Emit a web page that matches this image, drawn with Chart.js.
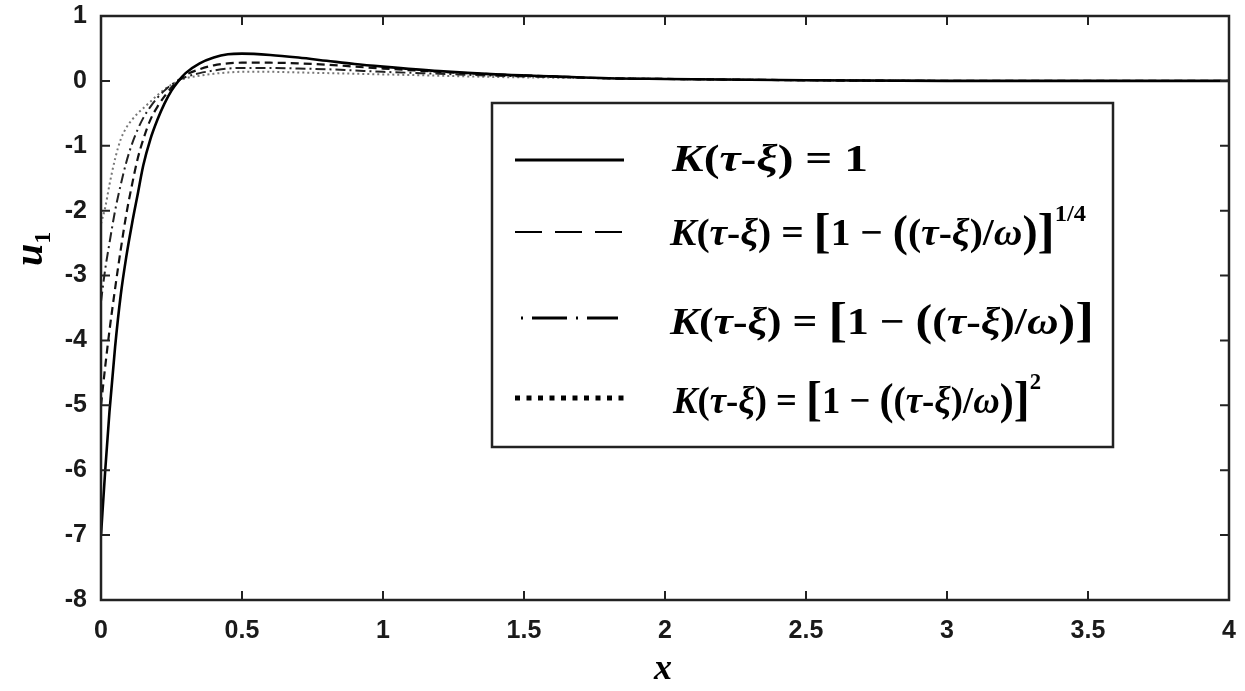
<!DOCTYPE html>
<html>
<head>
<meta charset="utf-8">
<script src="https://cdn.jsdelivr.net/npm/chart.js@4/dist/chart.umd.min.js"></script>
<style>
  html, body { margin: 0; padding: 0; background: #fff; }
  #wrap { position: relative; width: 1245px; height: 691px; }
</style>
</head>
<body>
<div id="wrap"><canvas id="c"></canvas></div>
<script>
// ---- data ----
const xValues = [0, 0.015, 0.03, 0.05, 0.07, 0.09, 0.11, 0.13, 0.15, 0.175, 0.2, 0.225, 0.25, 0.275, 0.3, 0.35, 0.4, 0.45, 0.5, 0.6, 0.7, 0.8, 0.9, 1.0, 1.2, 1.4, 1.6, 1.8, 2.0, 2.5, 3.0, 3.5, 4.0];
const uK1      = [-7.0, -6.0, -5.1, -4.1, -3.3, -2.7, -2.2, -1.75, -1.3, -0.9, -0.6, -0.35, -0.15, 0.0, 0.12, 0.27, 0.36, 0.41, 0.42, 0.40, 0.36, 0.31, 0.26, 0.22, 0.15, 0.10, 0.07, 0.04, 0.03, 0.01, 0.0, 0.0, 0.0];
const uKquart  = [-5.0, -4.4, -3.85, -3.2, -2.6, -2.05, -1.6, -1.2, -0.9, -0.6, -0.4, -0.24, -0.1, 0.01, 0.09, 0.18, 0.24, 0.27, 0.28, 0.28, 0.27, 0.25, 0.22, 0.19, 0.14, 0.10, 0.07, 0.04, 0.03, 0.01, 0.0, 0.0, 0.0];
const uKlin    = [-3.4, -2.9, -2.5, -2.0, -1.6, -1.25, -0.97, -0.75, -0.57, -0.4, -0.26, -0.15, -0.06, 0.01, 0.06, 0.12, 0.16, 0.19, 0.20, 0.20, 0.19, 0.18, 0.16, 0.14, 0.11, 0.08, 0.06, 0.04, 0.03, 0.01, 0.0, 0.0, 0.0];
const uKsq     = [-2.2, -1.95, -1.6, -1.2, -0.9, -0.72, -0.6, -0.5, -0.42, -0.32, -0.22, -0.13, -0.06, 0.0, 0.04, 0.08, 0.11, 0.13, 0.14, 0.14, 0.13, 0.12, 0.11, 0.10, 0.08, 0.06, 0.05, 0.04, 0.03, 0.01, 0.0, 0.0, 0.0];
const xTicks = [0, 0.5, 1, 1.5, 2, 2.5, 3, 3.5, 4];
const yTicks = [1, 0, -1, -2, -3, -4, -5, -6, -7, -8];
const seriesNames = ['K(τ-ξ) = 1', 'K(τ-ξ) = [1 − ((τ-ξ)/ω)]^1/4', 'K(τ-ξ) = [1 − ((τ-ξ)/ω)]', 'K(τ-ξ) = [1 − ((τ-ξ)/ω)]^2'];
const seriesValues = [uK1, uKquart, uKlin, uKsq];

// ---- styles ----
const lineStyles = [
  { color: '#000', width: 2.6, dash: [] },
  { color: '#111', width: 2.2, dash: [8, 5] },
  { color: '#222', width: 2.0, dash: [10, 4, 2, 4] },
  { color: '#777', width: 2.0, dash: [2, 3] }
];
const legendSamples = [
  { dash: [], width: 3, cap: 'butt' },
  { dash: [27, 13], width: 2.2, cap: 'butt' },
  { dash: [2, 9, 35, 9], width: 3, cap: 'butt' },
  { dash: [5, 6.5], width: 5, cap: 'butt' }
];

const datasets = seriesValues.map((vals, i) => ({
  label: seriesNames[i],
  data: xValues.map((x, j) => ({ x: x, y: vals[j] })),
  borderColor: lineStyles[i].color,
  borderWidth: lineStyles[i].width,
  borderDash: lineStyles[i].dash,
  pointRadius: 0,
  fill: false,
  cubicInterpolationMode: 'monotone'
}));

// frame + inward ticks
const framePlugin = {
  id: 'frame',
  afterDraw(chart) {
    const { ctx, chartArea: a, scales } = chart;
    ctx.save();
    ctx.strokeStyle = '#222';
    ctx.lineWidth = 2.5;
    ctx.strokeRect(a.left, a.top, a.right - a.left, a.bottom - a.top);
    ctx.lineWidth = 2;
    const L = 9;
    xTicks.forEach(v => {
      const px = scales.x.getPixelForValue(v);
      ctx.beginPath();
      ctx.moveTo(px, a.bottom); ctx.lineTo(px, a.bottom - L);
      ctx.moveTo(px, a.top); ctx.lineTo(px, a.top + L);
      ctx.stroke();
    });
    yTicks.forEach(v => {
      const py = scales.y.getPixelForValue(v);
      ctx.beginPath();
      ctx.moveTo(a.left, py); ctx.lineTo(a.left + L, py);
      ctx.moveTo(a.right, py); ctx.lineTo(a.right - L, py);
      ctx.stroke();
    });
    ctx.restore();
  }
};

// math-like text runs
function runFont(r, size) {
  const s = size * (r.k || 1) * (r.sup ? 0.62 : 1);
  return (r.it ? 'italic ' : '') + 'bold ' + s + 'px "Liberation Serif", "DejaVu Serif", serif';
}
function drawRuns(ctx, runs, x, baseline, size, right) {
  ctx.save();
  let w = 0;
  runs.forEach(r => { ctx.font = runFont(r, size); w += ctx.measureText(r.t).width; });
  const sx = (right - x) / w;
  ctx.translate(x, baseline);
  ctx.scale(sx, 1);
  let cx = 0;
  runs.forEach(r => {
    ctx.font = runFont(r, size);
    const dy = r.sup ? -size * 0.62 : (r.k ? size * 0.08 * (r.k - 1) * 2 : 0);
    ctx.fillText(r.t, cx, dy);
    cx += ctx.measureText(r.t).width;
  });
  ctx.restore();
}
const K = [{ t: 'K', it: 1 }, { t: '(' }, { t: 'τ', it: 1 }, { t: '-' }, { t: 'ξ', it: 1 }, { t: ')' }, { t: ' = ' }];
const bracket = [{ t: '[', k: 1.3 }, { t: '1 − ' }, { t: '(', k: 1.15 }, { t: '(' }, { t: 'τ', it: 1 }, { t: '-' }, { t: 'ξ', it: 1 }, { t: ')/' }, { t: 'ω', it: 1 }, { t: ')', k: 1.15 }, { t: ']', k: 1.3 }];
const legendRows = [
  { runs: K.concat([{ t: '1' }]), x: 672, right: 868 },
  { runs: K.concat(bracket, [{ t: '1/4', sup: 1 }]), x: 670, right: 1086 },
  { runs: K.concat(bracket), x: 670, right: 1094 },
  { runs: K.concat(bracket, [{ t: '2', sup: 1 }]), x: 673, right: 1041 }
];
const legendPlugin = {
  id: 'mathLegend',
  afterDraw(chart) {
    const { ctx } = chart;
    const box = { l: 492, t: 103, r: 1113, b: 447 };
    ctx.save();
    ctx.fillStyle = '#fff';
    ctx.fillRect(box.l, box.t, box.r - box.l, box.b - box.t);
    ctx.strokeStyle = '#222';
    ctx.lineWidth = 2.5;
    ctx.strokeRect(box.l, box.t, box.r - box.l, box.b - box.t);
    const rowY = [160, 232, 318, 398];
    const baseY = [171, 245, 334, 413];
    chart.data.datasets.forEach((ds, i) => {
      const s = legendSamples[i];
      ctx.beginPath();
      ctx.strokeStyle = '#000';
      ctx.lineWidth = s.width;
      ctx.lineCap = s.cap;
      ctx.setLineDash(s.dash);
      ctx.moveTo(i === 2 ? 521 : 515, rowY[i]);
      ctx.lineTo(i === 2 ? 618 : 624, rowY[i]);
      ctx.stroke();
      ctx.setLineDash([]);
      ctx.fillStyle = '#000';
      ctx.textBaseline = 'alphabetic';
      drawRuns(ctx, legendRows[i].runs, legendRows[i].x, baseY[i], 38, legendRows[i].right);
    });
    ctx.restore();
  }
};

const titlePlugin = {
  id: 'axisTitles',
  afterDraw(chart) {
    const { ctx } = chart;
    ctx.save();
    ctx.fillStyle = '#000';
    ctx.textBaseline = 'alphabetic';
    ctx.font = 'italic bold 36px "Liberation Serif", serif';
    ctx.textAlign = 'center';
    ctx.fillText('x', 663, 679);
    ctx.translate(42, 266);
    ctx.rotate(-Math.PI / 2);
    ctx.textAlign = 'left';
    ctx.font = 'italic bold 40px "Liberation Serif", serif';
    ctx.fillText('u', 0, 0);
    const w = ctx.measureText('u').width;
    ctx.font = 'bold 24px "Liberation Serif", serif';
    ctx.fillText('1', w, 8);
    ctx.restore();
  }
};

const tickFont = { family: '"Liberation Sans", Arial, sans-serif', size: 25, weight: 'bold' };
new Chart(document.getElementById('c'), {
  type: 'line',
  data: { datasets },
  options: {
    responsive: true,
    maintainAspectRatio: false,
    animation: false,
    layout: { padding: { top: 16, right: 16, left: 0, bottom: 0 } },
    plugins: { legend: { display: false }, tooltip: { enabled: false } },
    scales: {
      x: {
        type: 'linear', min: 0, max: 4,
        afterFit(s) { s.height = 91; s.paddingLeft = 0; s.paddingRight = 0; },
        afterBuildTicks(s) { s.ticks = xTicks.map(v => ({ value: v })); },
        ticks: { font: tickFont, color: '#1a1a1a', padding: 16, maxRotation: 0, callback: v => String(v) },
        grid: { display: false, drawTicks: false },
        border: { display: false }
      },
      y: {
        type: 'linear', min: -8, max: 1,
        afterFit(s) { s.width = 101; s.paddingTop = 0; s.paddingBottom = 0; },
        afterBuildTicks(s) { s.ticks = yTicks.map(v => ({ value: v })); },
        ticks: { font: tickFont, color: '#1a1a1a', padding: 14, callback: v => String(v) },
        grid: { display: false, drawTicks: false },
        border: { display: false }
      }
    }
  },
  plugins: [framePlugin, legendPlugin, titlePlugin]
});
</script>
</body>
</html>
